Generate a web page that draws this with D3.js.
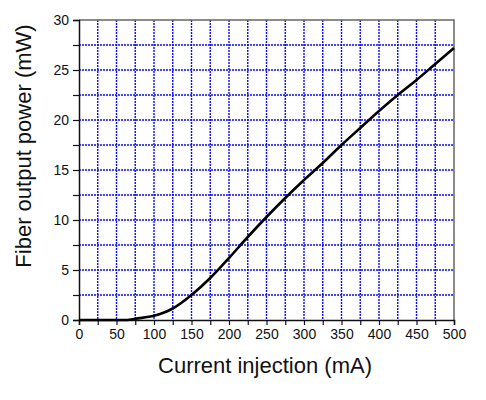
<!DOCTYPE html>
<html><head><meta charset="utf-8">
<script src="https://cdn.jsdelivr.net/npm/d3@7"></script>
<style>body{margin:0;background:#fff}svg{display:block}text{font-family:Arial,"Liberation Sans",sans-serif;fill:#111}</style>
</head><body><svg id="c" width="486" height="400"></svg>
<script>
const currentMA = [0, 25, 50, 64, 75, 100, 125, 150, 175, 200, 225, 250, 275, 300, 325, 350, 375, 400, 425, 450, 475, 500];
const powerMW   = [0, 0, 0, 0, 0.13, 0.42, 1.15, 2.5, 4.2, 6.2, 8.3, 10.3, 12.2, 14.0, 15.7, 17.5, 19.2, 20.9, 22.5, 24.0, 25.6, 27.2];
const xTicks = [0, 50, 100, 150, 200, 250, 300, 350, 400, 450, 500];
const yTicks = [0, 5, 10, 15, 20, 25, 30];
const xLabel = "Current injection (mA)";
const yLabel = "Fiber output power (mW)";

const svg = d3.select("#c");
const L = 79, R = 454, T = 20, B = 320;
const x = d3.scaleLinear().domain([0, 500]).range([L, R]);
const y = d3.scaleLinear().domain([0, 30]).range([B, T]);

const xMinor = d3.range(0, 501, 25);
const yMinor = d3.range(0, 30.01, 2.5);

// grid
const g = svg.append("g");
g.selectAll("line.v").data(xMinor.filter(d => d > 0 && d < 500)).enter().append("line")
  .attr("x1", d => x(d)).attr("x2", d => x(d)).attr("y1", T).attr("y2", B)
  .attr("stroke", "#0a0aff").attr("stroke-width", 1.4).attr("stroke-dasharray", "2,1");
g.selectAll("line.h").data(yMinor.filter(d => d > 0 && d < 30)).enter().append("line")
  .attr("y1", d => y(d)).attr("y2", d => y(d)).attr("x1", L).attr("x2", R)
  .attr("stroke", "#0a0aff").attr("stroke-width", 1.4).attr("stroke-dasharray", "2,1");

// frame top/right
svg.append("path").attr("d", `M${L},${T}H${R}V${B}`).attr("fill", "none")
  .attr("stroke", "#666").attr("stroke-width", 1.5);

// axes
const xAxis = svg.append("g").attr("transform", `translate(0,${B})`)
  .call(d3.axisBottom(x).tickValues(xMinor).tickSize(5).tickFormat(d => xTicks.includes(d) ? d : ""));
const yAxis = svg.append("g").attr("transform", `translate(${L},0)`)
  .call(d3.axisLeft(y).tickValues(yMinor).tickSize(6).tickFormat(d => yTicks.includes(d) ? d : ""));
[xAxis, yAxis].forEach(a => {
  a.select(".domain").attr("stroke", "#111").attr("stroke-width", 1.5);
  a.selectAll(".tick line").attr("stroke", "#111").attr("stroke-width", 1.2);
  a.selectAll("text").attr("font-size", 14).attr("fill", "#111")
    .style("font-family", "Arial, 'Liberation Sans', sans-serif");
});
xAxis.selectAll("text").attr("dy", "0.71em").attr("y", 9);
yAxis.selectAll("text").attr("x", -10);

// curve
const line = d3.line().x((d, i) => x(currentMA[i])).y(d => y(d)).curve(d3.curveMonotoneX);
svg.append("path").datum(powerMW).attr("d", line).attr("fill", "none")
  .attr("stroke", "#000").attr("stroke-width", 2.6);

// labels
svg.append("text").attr("x", 265).attr("y", 373).attr("text-anchor", "middle")
  .attr("font-size", 22).text(xLabel);
svg.append("text").attr("transform", `translate(31,146) rotate(-90)`).attr("text-anchor", "middle")
  .attr("font-size", 22).text(yLabel);
</script></body></html>
